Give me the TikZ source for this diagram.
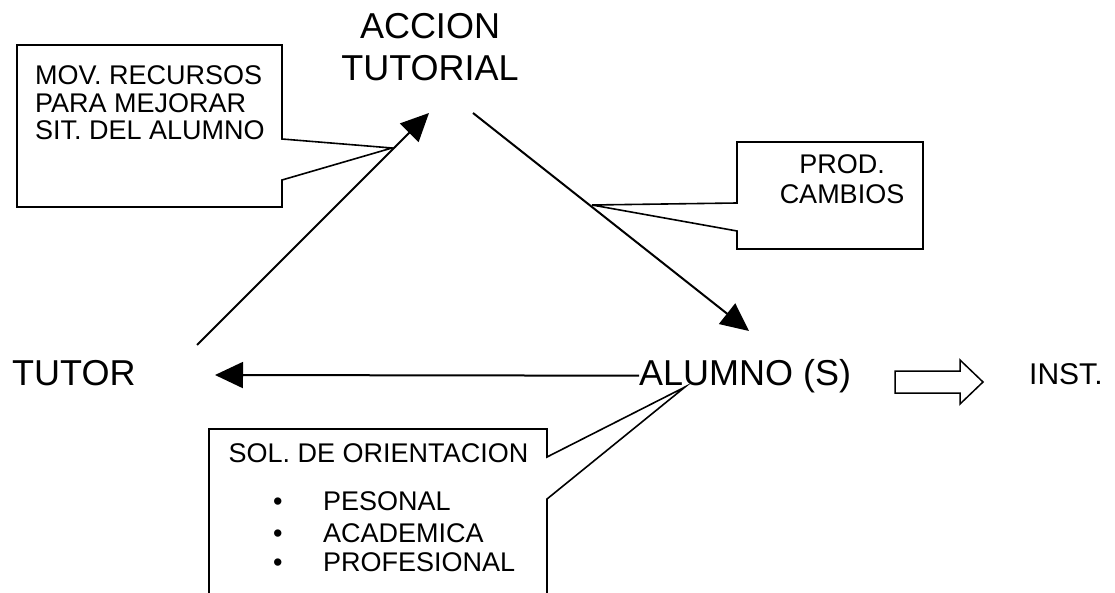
\documentclass[tikz,border=0pt]{standalone}
\usepackage{fontspec}
\setmainfont{Liberation Sans}
\usetikzlibrary{arrows.meta}
\begin{document}
\begin{tikzpicture}[x=1pt,y=-1pt,
  bigtext/.style={inner sep=0pt,font=\fontsize{36}{42}\selectfont},
  insttext/.style={inner sep=0pt,font=\fontsize{30}{36}\selectfont},
  smalltext/.style={inner sep=0pt,font=\fontsize{27}{27.5}\selectfont},
  callout/.style={draw=black,line width=1.6pt,fill=white,line join=miter},
  conn/.style={draw=black,line width=2pt,-{Triangle[length=28pt,width=26pt]}},
  blockarrow/.style={draw=black,line width=1.5pt,fill=white}]
\clip (0,0) rectangle (1115,593);
\fill[white] (0,0) rectangle (1115,593);

% main nodes
\node[bigtext,anchor=base,align=center] (accion) at (430,81) {ACCION\\TUTORIAL};
\node[bigtext,anchor=base west] (tutor) at (12,385) {TUTOR};
\node[bigtext,anchor=base west] (alumno) at (639,385) {ALUMNO (S)};
\node[insttext,anchor=base west] (inst) at (1029,384) {INST.};

% connector end points
\coordinate (tutorOut) at (197,345);
\coordinate (accionIn) at (429,113);
\coordinate (accionOut) at (473,113);
\coordinate (alumnoIn) at (749,331);
\coordinate (tutorIn) at (215,375);

% callout 1
\draw[callout] (17,45) -- (282,45) -- (282,139) -- (392,148) -- (282,180) -- (282,207) -- (17,207) -- cycle;
\node[smalltext,anchor=base west,align=left] (mov) at (35,140) {MOV. RECURSOS\\PARA MEJORAR\\SIT. DEL ALUMNO};

% callout 2
\draw[callout] (737,142) -- (923,142) -- (923,249) -- (737,249) -- (737,231) -- (592,205) -- (737,203) -- cycle;
\node[smalltext,anchor=base,align=center,font=\fontsize{27}{30}\selectfont] (prod) at (842,204) {PROD.\\CAMBIOS};

% callout 3
\draw[callout] (209,620) -- (209,429) -- (547,429) -- (547,457) -- (685,387) -- (547,499) -- (547,620);
\node[smalltext,anchor=base west] (sol) at (228.5,462) {SOL. DE ORIENTACION};
\node[smalltext,anchor=base west] (b1) at (273,510) {•};
\node[smalltext,anchor=base west] (b2) at (273,542.7) {•};
\node[smalltext,anchor=base west] (b3) at (273,571.7) {•};
\node[smalltext,anchor=base west] (i1) at (323,510) {PESONAL};
\node[smalltext,anchor=base west] (i2) at (323,542.7) {ACADEMICA};
\node[smalltext,anchor=base west] (i3) at (323,571.7) {PROFESIONAL};

% connectors
\draw[conn] (tutorOut) -- (accionIn);
\draw[conn] (accionOut) -- (alumnoIn);
\draw[conn] (alumno.west) -- (tutorIn);

% block arrow
\draw[blockarrow] (895,371) -- (960,371) -- (960,360) -- (983,382) -- (960,404) -- (960,393) -- (895,393) -- cycle;
\end{tikzpicture}
\end{document}
